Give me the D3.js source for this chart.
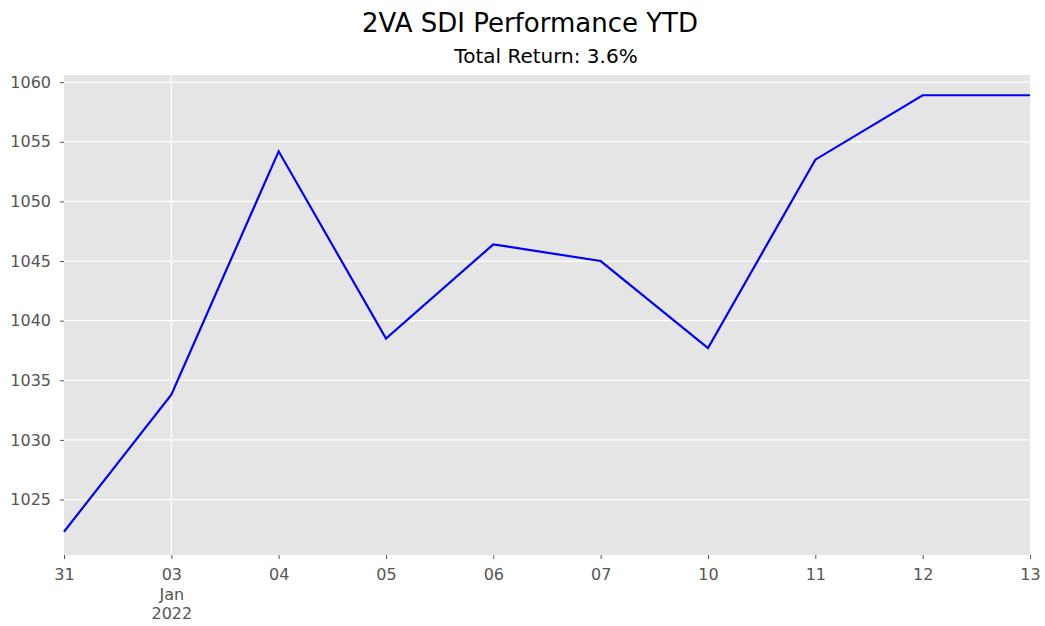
<!DOCTYPE html>
<html>
<head>
<meta charset="utf-8">
<script src="https://cdn.jsdelivr.net/npm/d3@7"></script>
<style>
  body { margin: 0; background: #fff; }
  text { font-family: "DejaVu Sans", sans-serif; }
</style>
</head>
<body>
<div id="chart"></div>
<script>
// 2VA SDI performance, business days from 31 Dec 2021

const svgWidth = 1045;
const svgHeight = 626;

const margin = { top: 75, right: 15, bottom: 71, left: 64 };
const width = svgWidth - margin.left - margin.right;
const height = svgHeight - margin.top - margin.bottom;

// data
const dayLabels = ["31", "03", "04", "05", "06", "07", "10", "11", "12", "13"];
const navValues = [1022.3, 1033.8, 1054.2, 1038.5, 1046.4, 1045.0, 1037.7, 1053.5, 1058.9, 1058.9];
const yTicks = [1025, 1030, 1035, 1040, 1045, 1050, 1055, 1060];
const majorIndex = 1; // Jan 03 gets the month/year label

const svg = d3.select("#chart")
    .append("svg")
    .attr("width", svgWidth)
    .attr("height", svgHeight);

const chartGroup = svg.append("g")
    .attr("transform", `translate(${margin.left}, ${margin.top})`);

// scales
const xScale = d3.scaleLinear()
    .domain([0, dayLabels.length - 1])
    .range([0, width]);

const yScale = d3.scaleLinear()
    .domain([1020.35, 1060.6])
    .range([height, 0]);

// background
chartGroup.append("rect")
    .attr("width", width)
    .attr("height", height)
    .attr("fill", "#e5e5e5");

// grid
chartGroup.selectAll(".hgrid")
    .data(yTicks)
    .enter()
    .append("line")
    .attr("x1", 0)
    .attr("x2", width)
    .attr("y1", d => yScale(d))
    .attr("y2", d => yScale(d))
    .attr("stroke", "#fff")
    .attr("stroke-width", 1.2);

chartGroup.append("line")
    .attr("x1", xScale(majorIndex))
    .attr("x2", xScale(majorIndex))
    .attr("y1", 0)
    .attr("y2", height)
    .attr("stroke", "#fff")
    .attr("stroke-width", 1.2);

// axes
const leftAxis = d3.axisLeft(yScale)
    .tickValues(yTicks)
    .tickFormat(d3.format("d"))
    .tickSize(4)
    .tickPadding(9);

const bottomAxis = d3.axisBottom(xScale)
    .tickValues(d3.range(dayLabels.length))
    .tickFormat(i => dayLabels[i])
    .tickSize(4)
    .tickPadding(10);

const yAxis = chartGroup.append("g")
    .call(leftAxis);

const xAxis = chartGroup.append("g")
    .attr("transform", `translate(0, ${height})`)
    .call(bottomAxis);

[xAxis, yAxis].forEach(ax => {
    ax.attr("font-size", null).attr("font-family", null);
    ax.select(".domain").remove();
    ax.selectAll("line").attr("stroke", "#555").attr("stroke-width", 1);
    ax.selectAll("text")
        .attr("fill", "#555")
        .style("font-size", "16px");
});

// month / year under Jan 03
xAxis.selectAll(".tick")
    .filter(d => d === majorIndex)
    .select("text")
    .each(function() {
        const t = d3.select(this);
        t.append("tspan").attr("x", 0).attr("dy", "1.2em").text("Jan");
        t.append("tspan").attr("x", 0).attr("dy", "1.2em").text("2022");
    });

// line
const line = d3.line()
    .x((d, i) => xScale(i))
    .y(d => yScale(d));

chartGroup.append("path")
    .datum(navValues)
    .attr("d", line)
    .attr("fill", "none")
    .attr("stroke", "#0000ff")
    .attr("stroke-width", 2.2);

// titles
svg.append("text")
    .attr("x", 530)
    .attr("y", 32)
    .attr("text-anchor", "middle")
    .style("font-size", "26px")
    .attr("fill", "#000")
    .text("2VA SDI Performance YTD");

svg.append("text")
    .attr("x", 546)
    .attr("y", 63)
    .attr("text-anchor", "middle")
    .style("font-size", "20px")
    .attr("fill", "#000")
    .text("Total Return: 3.6%");
</script>
</body>
</html>
